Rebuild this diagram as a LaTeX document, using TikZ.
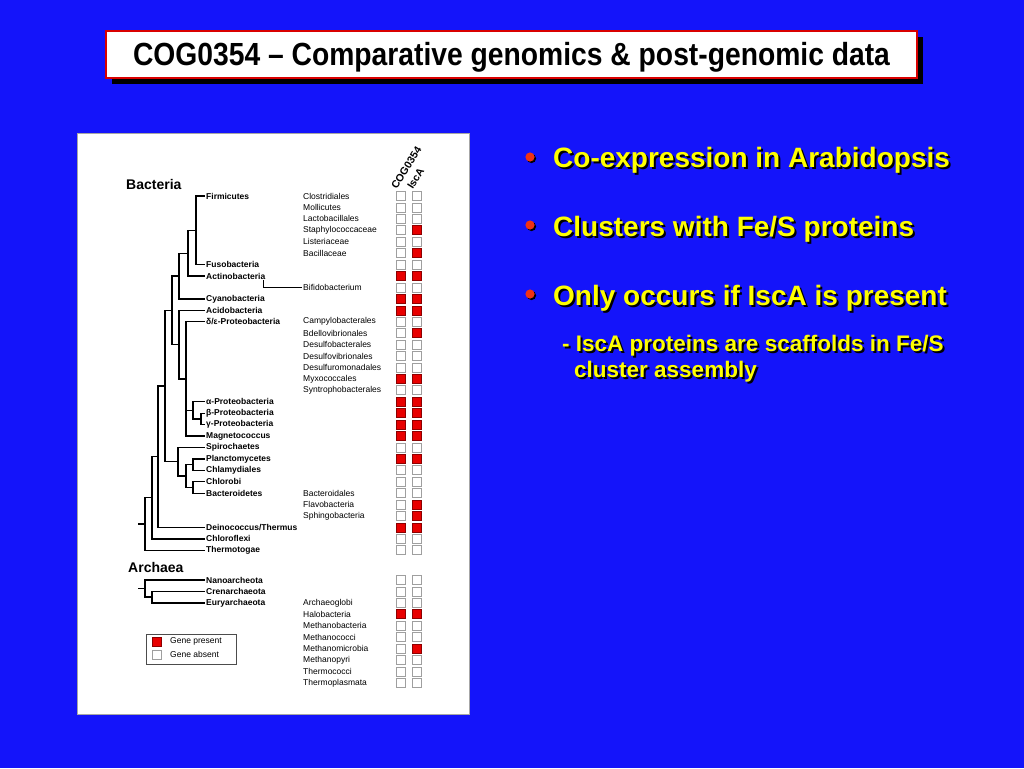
\documentclass[tikz,border=0pt]{standalone}
\usepackage{fontspec}
\setmainfont{Liberation Sans}
\usepackage{graphicx}
\definecolor{slideblue}{RGB}{20,20,250}
\definecolor{bulletyellow}{RGB}{255,255,0}
\definecolor{bulletred}{RGB}{240,50,20}
\definecolor{genered}{RGB}{232,0,0}
\newcommand{\shadowline}[3]{%
  \node[#3,text=black] at ([xshift=2pt,yshift=-2pt]#1) {#2};
  \node[#3] at (#1) {#2};}
\begin{document}
\begin{tikzpicture}[
    x=1pt, y=-1pt,
    branch/.style={line width=1.3pt},
    phylum/.style={anchor=west, inner sep=1pt, font=\fontsize{8.5}{9}\selectfont\bfseries},
    taxon/.style={anchor=west, inner sep=1pt, font=\fontsize{8.5}{9}\selectfont},
    kingdom/.style={anchor=west, inner sep=0pt, font=\fontsize{14}{15}\selectfont\bfseries},
    colhead/.style={anchor=south west, inner sep=0pt, rotate=58, font=\fontsize{10.5}{11}\selectfont\bfseries},
    present/.style={draw=red!55!black, fill=genered, minimum size=9pt, inner sep=0pt, line width=.6pt},
    absent/.style={draw=gray!75, fill=white, minimum size=9pt, inner sep=0pt, line width=.8pt},
    bigline/.style={anchor=base west, inner sep=0pt, text=bulletyellow, font=\fontsize{28}{30}\selectfont\bfseries},
    subline/.style={anchor=base west, inner sep=0pt, text=bulletyellow, font=\fontsize{22.5}{24}\selectfont\bfseries}]
    \useasboundingbox (0,0) rectangle (1024,768);
    \fill[slideblue] (0,0) rectangle (1024,768);
    % title
    \fill[black] (112,37) rectangle (923,84);
    \draw[red!85!black,line width=2pt,fill=white] (106,31) rectangle (917,78);
    \node[anchor=base, inner sep=0pt] (title) at (511.5,65)
        {\resizebox{757pt}{\height}{\fontsize{32}{34}\selectfont\bfseries COG0354 – Comparative genomics \& post-genomic data}};
    % bullets
    \foreach \yy in {157,225,294} {
        \fill[black] (531.5,\yy+1.5) circle (4.6);
        \fill[bulletred] (530,\yy) circle (4.6);
    }
    \shadowline{553,167}{Co-expression in Arabidopsis}{bigline}
    \shadowline{553,236}{Clusters with Fe/S proteins}{bigline}
    \shadowline{553,305}{Only occurs if IscA is present}{bigline}
    \shadowline{562,351}{- IscA proteins are scaffolds in Fe/S}{subline}
    \shadowline{574,377}{cluster assembly}{subline}
    % figure panel
    \draw[gray!70,fill=white] (77,133) rectangle (469,714);
    \node[kingdom] (bacteria) at (126,184) {Bacteria};
    \node[kingdom] (archaea) at (128,567) {Archaea};
    \node[colhead] (hcog) at (397,190) {COG0354};
    \node[colhead] (hisc) at (413,190) {IscA};
    % phyla
    \node[phylum] (firm) at (205,196) {Firmicutes};
    \node[phylum] (fuso) at (205,264.6) {Fusobacteria};
    \node[phylum] (actino) at (205,276) {Actinobacteria};
    \node[phylum] (cyano) at (205,298.9) {Cyanobacteria};
    \node[phylum] (acido) at (205,310.3) {Acidobacteria};
    \node[phylum] (delta) at (205,321.7) {δ/ε-Proteobacteria};
    \node[phylum] (alpha) at (205,401.7) {α-Proteobacteria};
    \node[phylum] (beta) at (205,413.2) {β-Proteobacteria};
    \node[phylum] (gamma) at (205,424.6) {γ-Proteobacteria};
    \node[phylum] (magneto) at (205,436) {Magnetococcus};
    \node[phylum] (spiro) at (205,447.5) {Spirochaetes};
    \node[phylum] (plancto) at (205,458.9) {Planctomycetes};
    \node[phylum] (chlamy) at (205,470.3) {Chlamydiales};
    \node[phylum] (chlorobi) at (205,481.8) {Chlorobi};
    \node[phylum] (bactero) at (205,493.2) {Bacteroidetes};
    \node[phylum] (deino) at (205,527.5) {Deinococcus/Thermus};
    \node[phylum] (chlorofl) at (205,538.9) {Chloroflexi};
    \node[phylum] (thermo) at (205,550.3) {Thermotogae};
    \node[phylum] (nano) at (205,580) {Nanoarcheota};
    \node[phylum] (cren) at (205,591.4) {Crenarchaeota};
    \node[phylum] (eury) at (205,602.9) {Euryarchaeota};
    % inner nodes
    \coordinate (nFF) at (196,230.3);
    \coordinate (nFA) at (188,253.2);
    \coordinate (nFC) at (179,276);
    \coordinate (nBG) at (201,418.9);
    \coordinate (nAG) at (193,410.3);
    \coordinate (nProt) at (186,378.9);
    \coordinate (nAcP) at (179,344.6);
    \coordinate (nUp) at (172,310.3);
    \coordinate (nPC) at (193,464.6);
    \coordinate (nCB) at (193,487.5);
    \coordinate (nPCCB) at (186,476);
    \coordinate (nSp) at (178,461.7);
    \coordinate (nUS) at (165,386);
    \coordinate (nDe) at (158,456.7);
    \coordinate (nCf) at (152,497.8);
    \coordinate (bRoot) at (145,524);
    \coordinate (bStub) at (138,524);
    \coordinate (nCE) at (152,597.1);
    \coordinate (aRoot) at (145,588.6);
    \coordinate (aStub) at (138,588.6);
    \draw[branch]
        (nFF) |- (firm.west) (nFF) |- (fuso.west)
        (nFA) |- (nFF) (nFA) |- (actino.west)
        (nFC) |- (nFA) (nFC) |- (cyano.west)
        (nBG) |- (beta.west) (nBG) |- (gamma.west)
        (nAG) |- (alpha.west) (nAG) |- (nBG)
        (nProt) |- (delta.west) (nProt) |- (nAG) (nProt) |- (magneto.west)
        (nAcP) |- (acido.west) (nAcP) |- (nProt)
        (nUp) |- (nFC) (nUp) |- (nAcP)
        (nPC) |- (plancto.west) (nPC) |- (chlamy.west)
        (nCB) |- (chlorobi.west) (nCB) |- (bactero.west)
        (nPCCB) |- (nPC) (nPCCB) |- (nCB)
        (nSp) |- (spiro.west) (nSp) |- (nPCCB)
        (nUS) |- (nUp) (nUS) |- (nSp)
        (nDe) |- (nUS) (nDe) |- (deino.west)
        (nCf) |- (nDe) (nCf) |- (chlorofl.west)
        (bRoot) |- (nCf) (bRoot) |- (thermo.west)
        (bStub) -- (bRoot)
        (nCE) |- (cren.west) (nCE) |- (eury.west)
        (aRoot) |- (nano.west) (aRoot) |- (nCE)
        (aStub) -- (aRoot);
    % subgroups
    \foreach \r/\t in {0/Clostridiales,1/Mollicutes,2/Lactobacillales,3/Staphylococcaceae,
        4/Listeriaceae,5/Bacillaceae,8/Bifidobacterium,11/Campylobacterales,
        12/Bdellovibrionales,13/Desulfobacterales,14/Desulfovibrionales,
        15/Desulfuromonadales,16/Myxococcales,17/Syntrophobacterales,
        26/Bacteroidales,27/Flavobacteria,28/Sphingobacteria}
        \node[taxon] (sub-\r) at (302,{196+11.43*\r}) {\t};
    \foreach \r/\t in {2/Archaeoglobi,3/Halobacteria,4/Methanobacteria,5/Methanococci,
        6/Methanomicrobia,7/Methanopyri,8/Thermococci,9/Thermoplasmata}
        \node[taxon] (asub-\r) at (302,{580+11.43*\r}) {\t};
    \draw[branch] ([xshift=-3pt]actino.south east) |- (sub-8.west);
    % gene table
    \foreach \r/\a/\b in {0/absent/absent,1/absent/absent,2/absent/absent,3/absent/present,
        4/absent/absent,5/absent/present,6/absent/absent,7/present/present,
        8/absent/absent,9/present/present,10/present/present,11/absent/absent,
        12/absent/present,13/absent/absent,14/absent/absent,15/absent/absent,
        16/present/present,17/absent/absent,18/present/present,19/present/present,
        20/present/present,21/present/present,22/absent/absent,23/present/present,
        24/absent/absent,25/absent/absent,26/absent/absent,27/absent/present,
        28/absent/present,29/present/present,30/absent/absent,31/absent/absent} {
        \node[\a] (cog-\r) at (401,{196+11.43*\r}) {};
        \node[\b] (isc-\r) at (417,{196+11.43*\r}) {};
    }
    \foreach \r/\a/\b in {0/absent/absent,1/absent/absent,2/absent/absent,3/present/present,
        4/absent/absent,5/absent/absent,6/absent/present,7/absent/absent,
        8/absent/absent,9/absent/absent} {
        \node[\a] (acog-\r) at (401,{580+11.43*\r}) {};
        \node[\b] (aisc-\r) at (417,{580+11.43*\r}) {};
    }
    % legend
    \draw[gray!60!black,line width=.8pt] (146,634) rectangle (236,664);
    \node[present] (keyp) at (157,641.5) {};
    \node[absent] (keya) at (157,654.5) {};
    \node[taxon] (keyptext) at (169,641.5) {Gene present};
    \node[taxon] (keyatext) at (169,654.5) {Gene absent};
\end{tikzpicture}
\end{document}
